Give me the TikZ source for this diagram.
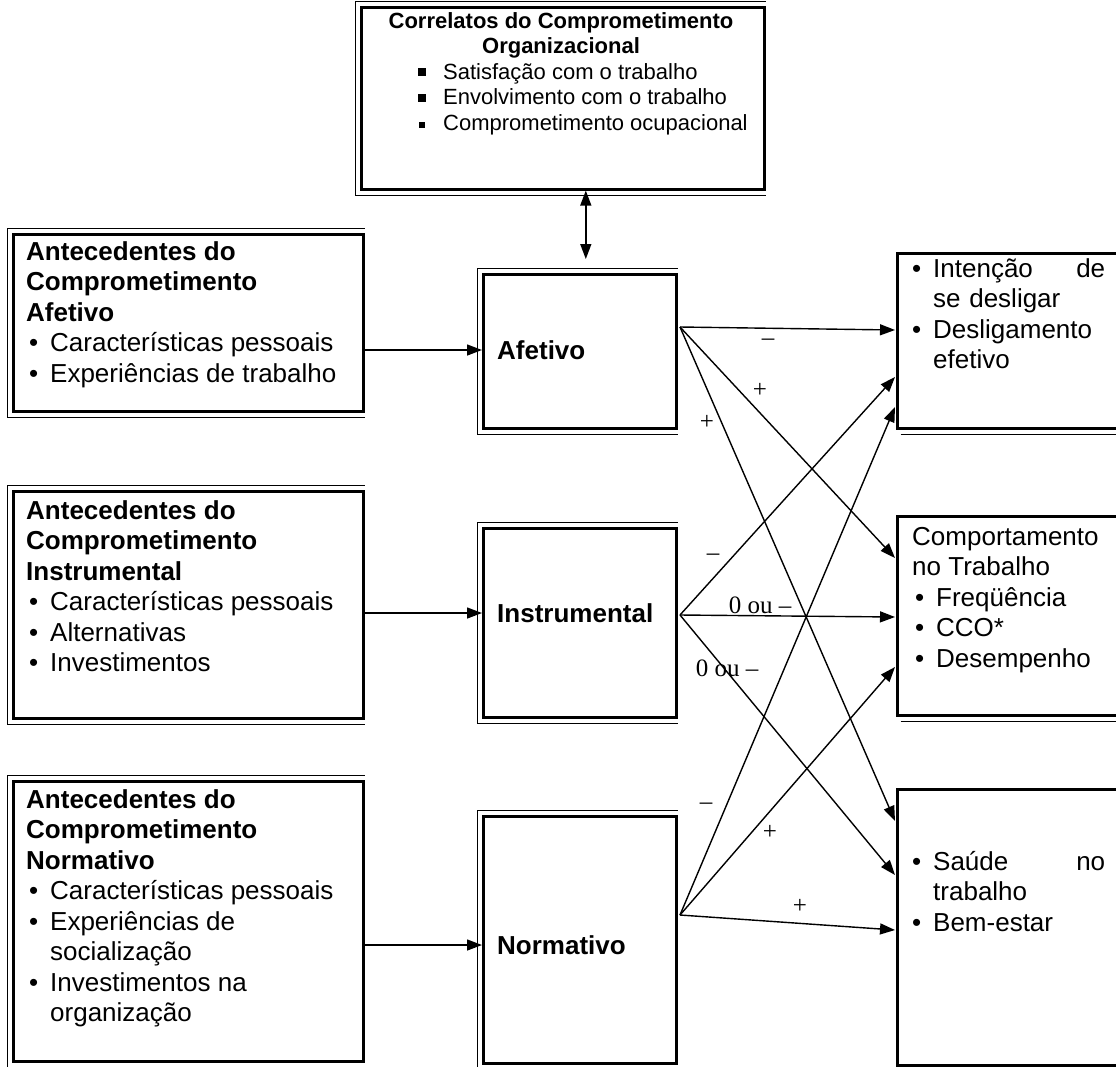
\documentclass[tikz,border=0pt]{standalone}
\usepackage{fontspec}
\setmainfont{Liberation Sans}
\newfontfamily\signfont{Liberation Serif}
\usetikzlibrary{positioning,arrows.meta}

\newcommand{\bul}{\hspace*{3pt}\makebox[21pt][l]{\textbullet}}
\newcommand{\ind}{\hspace*{24pt}}
\newcommand{\sqb}[1]{\makebox[25pt][l]{\raisebox{3pt}{\rule{#1}{#1}}}}

\begin{document}
\begin{tikzpicture}[x=1pt,y=-1pt,
  frame/.style={draw,line width=2.6pt,anchor=north west,inner sep=0pt},
  boxtxt/.style={anchor=north west,inner sep=0pt,align=left,font=\fontsize{26}{30.5}\selectfont},
  midtxt/.style={anchor=west,inner sep=0pt,font=\fontsize{26}{30.5}\selectfont\bfseries},
  arr/.style={line width=1.4pt,-{Triangle[length=15pt,width=11pt]}},
  sign/.style={inner sep=0pt,font=\signfont\fontsize{25}{25}\selectfont}]
\useasboundingbox (0,0) rectangle (1116,1066);

% frames
\node[frame,minimum width=403pt,minimum height=182pt] (corr) at (360,6) {};
\node[frame,minimum width=350pt,minimum height=177pt] (antA) at (12,233) {};
\node[frame,minimum width=350pt,minimum height=227pt] (antI) at (12,490) {};
\node[frame,minimum width=350pt,minimum height=280pt] (antN) at (12,780) {};
\node[frame,minimum width=193pt,minimum height=154pt] (af) at (482,273) {};
\node[frame,minimum width=193pt,minimum height=189pt] (ins) at (482,527) {};
\node[frame,minimum width=193pt,minimum height=247pt] (nor) at (482,815) {};
\node[frame,minimum width=240pt,minimum height=175pt] (r1) at (896,252) {};
\node[frame,minimum width=240pt,minimum height=199pt] (r2) at (896,515) {};
\node[frame,minimum width=240pt,minimum height=276pt] (r3) at (896,788) {};
% thin outer lines of the borders
\foreach \b in {corr,antA,antI,antN,af,ins,nor}
  \draw[line width=0.9pt] ([yshift=4.5pt]\b.north east) -| ([shift={(-4.5pt,-4.5pt)}]\b.south west) -- ([yshift=-4.5pt]\b.south east);
\foreach \b in {r1,r2,r3}
  \draw[line width=0.9pt] ([shift={(4.5pt,-4.5pt)}]\b.south west) -- ([yshift=-4.5pt]\b.south east);

% texts
\node[anchor=north,inner sep=0pt,align=center,font=\fontsize{22}{25.8}\selectfont\bfseries] (corrT) at (561,12)
  {Correlatos do Comprometimento\\Organizacional};
\node[anchor=north west,inner sep=0pt,align=left,font=\fontsize{22}{25.8}\selectfont] (corrL) at (418,63)
  {\sqb{8pt}Satisfação com o trabalho\\\sqb{8pt}Envolvimento com o trabalho\\\hspace*{1pt}\sqb{5.5pt}\hspace*{-1pt}Comprometimento ocupacional};
\node[boxtxt] (antAT) at (26,241)
  {\textbf{Antecedentes do}\\\textbf{Comprometimento}\\\textbf{Afetivo}\\\bul Características pessoais\\\bul Experiências de trabalho};
\node[boxtxt] (antIT) at (26,500)
  {\textbf{Antecedentes do}\\\textbf{Comprometimento}\\\textbf{Instrumental}\\\bul Características pessoais\\\bul Alternativas\\\bul Investimentos};
\node[boxtxt] (antNT) at (26,789)
  {\textbf{Antecedentes do}\\\textbf{Comprometimento}\\\textbf{Normativo}\\\bul Características pessoais\\\bul Experiências de\\\ind socialização\\\bul Investimentos na\\\ind organização};
\node[midtxt] (aft) at (497,350) {Afetivo};
\node[midtxt] (inst) at (497,613) {Instrumental};
\node[midtxt] (nort) at (497,945) {Normativo};
\node[boxtxt,text width=196pt] (r1T) at (909,258)
  {\bul Intenção\hfill de\\\ind se desligar\\\bul Desligamento\\\ind efetivo};
\node[boxtxt] (r2T) at (912,527)
  {Comportamento\\no Trabalho\\\bul Freqüência\\\bul CCO*\\\bul Desempenho};
\node[boxtxt,text width=196pt] (r3T) at (909,851)
  {\bul Saúde\hfill no\\\ind trabalho\\\bul Bem-estar};

% connectors
\draw[line width=1.4pt,{Triangle[length=15pt,width=11pt]}-{Triangle[length=15pt,width=11pt]},shorten >=14pt]
  ([xshift=6pt]af.north |- corr.south) -- ([xshift=6pt]af.north);
\draw[arr] (antA.east |- aft.west) -- (af.west |- aft.west);
\draw[arr] (antI.east |- inst.west) -- (ins.west |- inst.west);
\draw[arr] (antN.east |- nort.west) -- (nor.west |- nort.west);

\coordinate (afo) at (680,327);
\coordinate (inso) at (680,615);
\coordinate (noro) at (680,915);
\coordinate (r1a) at (895,330);
\coordinate (r1b) at (895,377);
\coordinate (r1c) at (895,407);
\coordinate (r2a) at (895,558);
\coordinate (r2b) at (895,617);
\coordinate (r2c) at (895,667);
\coordinate (r3a) at (895,821);
\coordinate (r3b) at (895,875);
\coordinate (r3c) at (895,930);
\foreach \s/\t in {afo/r1a,afo/r2a,afo/r3a,inso/r1b,inso/r2b,inso/r3b,noro/r1c,noro/r2c,noro/r3c}
  \draw[arr] (\s) -- (\t);

% signs on the paths
\node[sign] (s1) at (768,342) {–};
\node[sign] (s2) at (760,390) {+};
\node[sign] (s3) at (707,422) {+};
\node[sign] (s4) at (713,557) {–};
\node[sign] (s5) at (760,605) {0 ou –};
\node[sign] (s6) at (727,668) {0 ou –};
\node[sign] (s7) at (706,806) {–};
\node[sign] (s8) at (770,832) {+};
\node[sign] (s9) at (800,906) {+};
\end{tikzpicture}
\end{document}
